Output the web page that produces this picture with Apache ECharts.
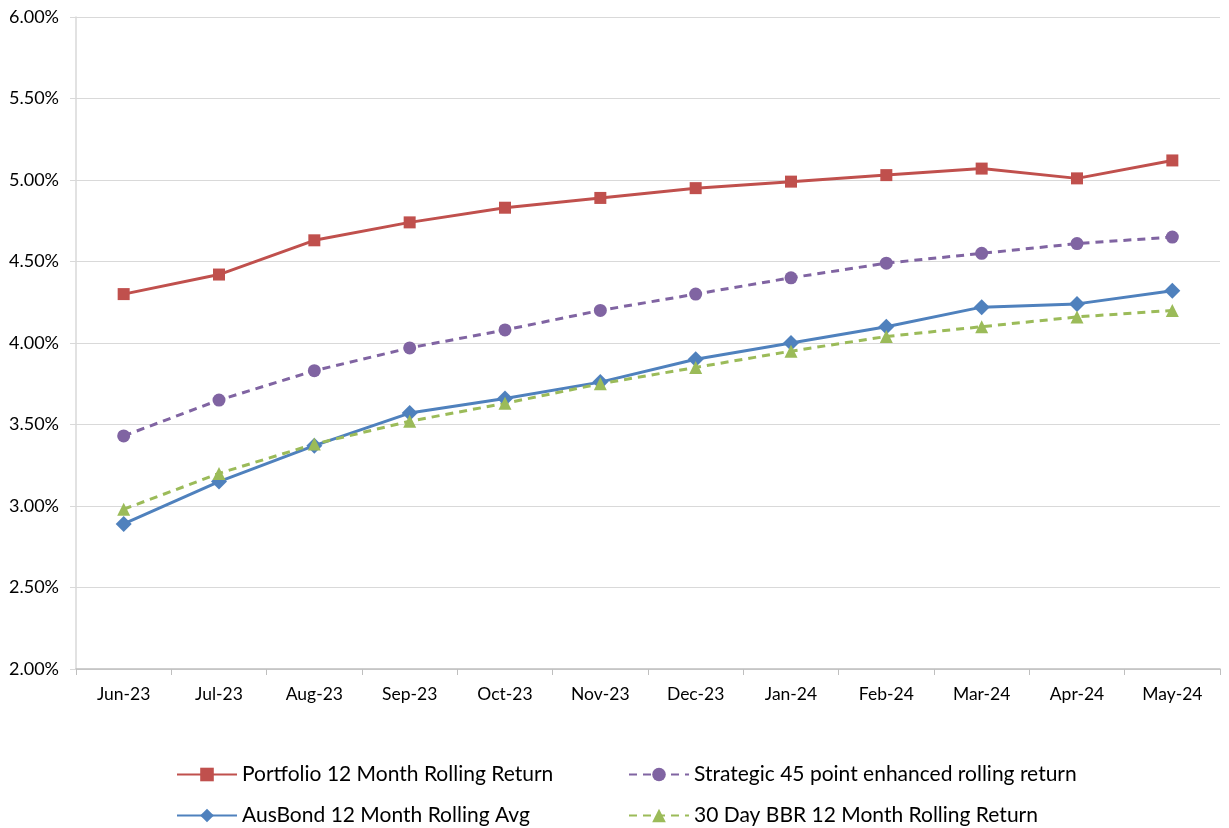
<!DOCTYPE html>
<html>
<head>
<meta charset="utf-8">
<script src="https://cdn.jsdelivr.net/npm/echarts@6/dist/echarts.min.js"></script>
<style>html,body{margin:0;padding:0;background:#fff;}#c{width:1229px;height:828px;}</style>
</head>
<body>
<div id="c"></div>
<script>
const categories = ['Jun-23','Jul-23','Aug-23','Sep-23','Oct-23','Nov-23','Dec-23','Jan-24','Feb-24','Mar-24','Apr-24','May-24'];
const portfolio = [4.30,4.42,4.63,4.74,4.83,4.89,4.95,4.99,5.03,5.07,5.01,5.12];
const strategic = [3.43,3.65,3.83,3.97,4.08,4.20,4.30,4.40,4.49,4.55,4.61,4.65];
const ausbond = [2.89,3.15,3.37,3.57,3.66,3.76,3.90,4.00,4.10,4.22,4.24,4.32];
const bbr = [2.98,3.20,3.38,3.52,3.63,3.75,3.85,3.95,4.04,4.10,4.16,4.20];
const yTicks = [2.0,2.5,3.0,3.5,4.0,4.5,5.0,5.5,6.0];

const names = ['Portfolio 12 Month Rolling Return','Strategic 45 point enhanced rolling return','AusBond 12 Month Rolling Avg','30 Day BBR 12 Month Rolling Return'];
const font = 'Lato, "Open Sans", sans-serif';
const legendPos = [[176, 764], [628, 764], [176, 805], [628, 805]];
const chart = echarts.init(document.getElementById('c'));
chart.setOption({
  animation: false,
  textStyle: {fontFamily: font},
  grid: {left: 76, right: 9, top: 17, bottom: 159, containLabel: false},
  xAxis: {
    type: 'category', data: categories, boundaryGap: true,
    axisLine: {lineStyle: {color: '#bfbfbf', width: 1.5}},
    axisTick: {show: true, length: 6, lineStyle: {color: '#bfbfbf'}},
    axisLabel: {color: '#000', fontSize: 17.5, margin: 16, fontFamily: font}
  },
  yAxis: {
    type: 'value', min: yTicks[0], max: yTicks[yTicks.length-1], interval: 0.5,
    axisLine: {show: true, lineStyle: {color: '#d9d9d9', width: 1.5}},
    axisTick: {show: true, length: 6, lineStyle: {color: '#d9d9d9'}},
    splitLine: {lineStyle: {color: '#d9d9d9', width: 1.2}},
    axisLabel: {color: '#000', fontSize: 18, margin: 17, fontFamily: font, formatter: v => v.toFixed(2) + '%'}
  },
  legend: names.map((n, i) => ({
    left: legendPos[i][0], top: legendPos[i][1], itemWidth: 60, itemHeight: 17, padding: 0,
    data: [n], textStyle: {fontSize: 21, color: '#000', fontFamily: font}
  })),
  series: [
    {name: names[0], type: 'line', data: portfolio, symbol: 'rect', symbolSize: 12,
     itemStyle: {color: '#C0504D'}, lineStyle: {color: '#C0504D', width: 3}},
    {name: names[1], type: 'line', data: strategic, symbol: 'circle', symbolSize: 13,
     itemStyle: {color: '#8064A2'}, lineStyle: {color: '#8064A2', width: 3, type: [8,6]}},
    {name: names[2], type: 'line', data: ausbond, symbol: 'diamond', symbolSize: 16,
     itemStyle: {color: '#4F81BD'}, lineStyle: {color: '#4F81BD', width: 3}},
    {name: names[3], type: 'line', data: bbr, symbol: 'triangle', symbolSize: 13,
     itemStyle: {color: '#9BBB59'}, lineStyle: {color: '#9BBB59', width: 3, type: [8,6]}}
  ]
});
</script>
</body>
</html>
